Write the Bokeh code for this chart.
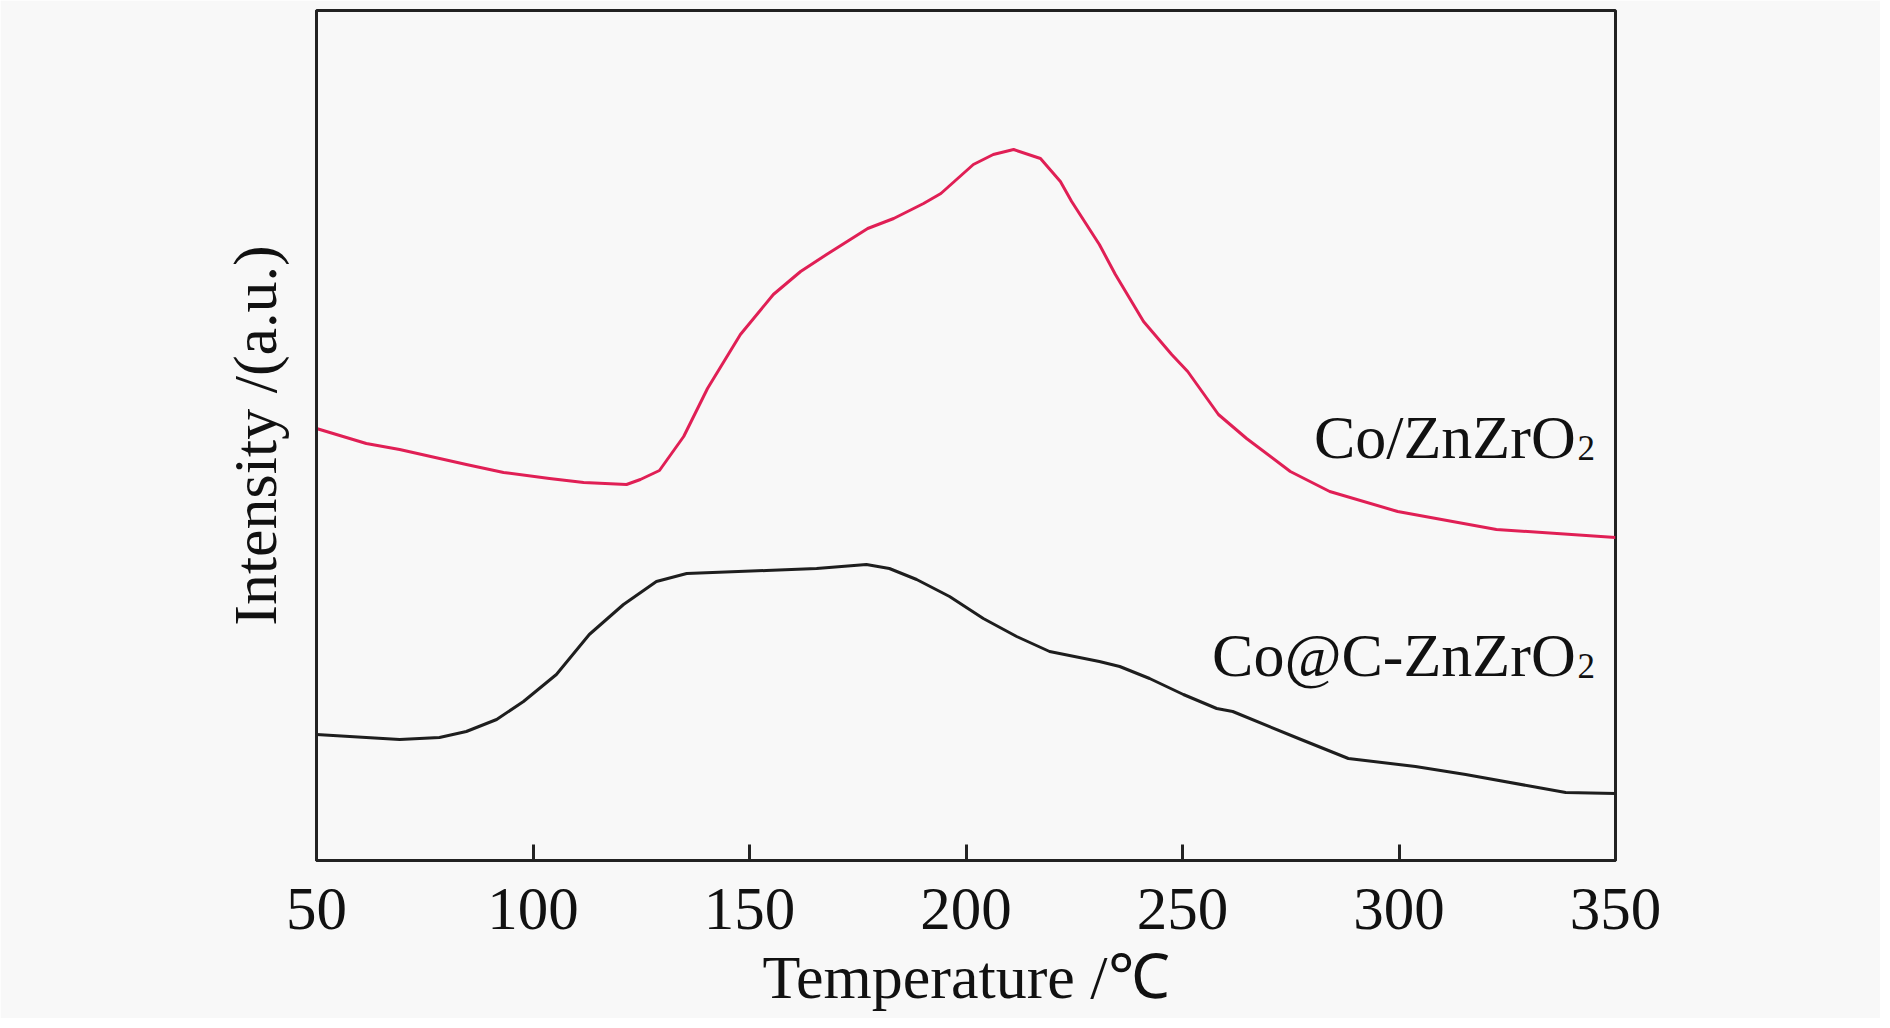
from bokeh.plotting import figure
from bokeh.models import FixedTicker, Label
from bokeh.embed import file_html
from bokeh.resources import INLINE

# ---- data ----
temp_co = [50.0, 61.5, 69.2, 84.6, 93.2, 103.8, 111.7, 121.6, 124.8, 129.2, 134.8, 140.3,
           147.9, 155.5, 161.8, 167.8, 177.3, 183.3, 190.2, 194.2, 201.7, 206.3, 211.0, 217.2,
           221.8, 224.4, 230.8, 234.5, 241.0, 247.5, 251.2, 258.3, 264.8, 274.9, 284.0, 299.7,
           322.5, 350.0]
int_co = [432, 417, 411, 396, 388, 382, 378, 376, 381, 390, 424, 472,
          526, 566, 589, 606, 632, 642, 657, 667, 696, 706, 711, 702,
          679, 659, 616, 586, 539, 506, 489, 446, 422, 389, 369, 349,
          331, 323]

temp_coc = [50.0, 61.5, 69.2, 78.4, 84.6, 91.6, 97.8, 105.4, 113.0, 120.9, 128.5, 135.5, 153.9,
            165.5, 177.0, 182.3, 188.6, 196.2, 204.0, 211.7, 219.3, 230.8, 235.5, 242.4, 250.2,
            257.9, 261.6, 276.8, 288.3, 303.8, 315.4, 330.8, 338.5, 350.0]
int_coc = [126, 123, 121, 123, 129, 141, 159, 186, 226, 256, 279, 287, 290,
           292, 296, 292, 281, 264, 242, 224, 209, 199, 194, 182, 166,
           152, 149, 122, 102, 94, 86, 74, 68, 67]

x_ticks = [50, 100, 150, 200, 250, 300, 350]
series_names = ["Co/ZnZrO", "Co@C-ZnZrO"]
label_x = [340.8, 340.8]
label_y = [424, 206]

FONT = "Liberation Serif"
BG = "#f8f8f8"

p = figure(frame_width=1299, frame_height=850, x_range=(50, 350), y_range=(0, 850),
           output_backend="svg", toolbar_location=None,
           min_border_left=316, min_border_top=10, min_border_right=265, min_border_bottom=158,
           background_fill_color=BG, border_fill_color=BG)
p.grid.visible = False
p.outline_line_color = "#222222"
p.outline_line_width = 3

p.line(temp_co, int_co, line_color="#e01f55", line_width=3, line_join="round")
p.line(temp_coc, int_coc, line_color="#1e1e1e", line_width=3, line_join="round")

xa = p.xaxis[0]
xa.ticker = FixedTicker(ticks=x_ticks)
xa.axis_line_color = "#222222"
xa.axis_line_width = 3
xa.major_tick_in = 16
xa.major_tick_out = 0
xa.major_tick_line_width = 3
xa.major_tick_line_color = "#222222"
xa.minor_tick_line_color = None
xa.major_label_text_font = FONT
xa.major_label_text_font_size = "61px"
xa.major_label_text_color = "#111111"
xa.major_label_standoff = 28
xa.axis_label = "Temperature /℃"
xa.axis_label_text_font = FONT
xa.axis_label_text_font_size = "62px"
xa.axis_label_text_font_style = "normal"
xa.axis_label_text_color = "#111111"
xa.axis_label_standoff = 11

ya = p.yaxis[0]
ya.ticker = FixedTicker(ticks=[])
ya.axis_line_color = "#222222"
ya.axis_line_width = 3
ya.major_tick_in = 0
ya.major_tick_out = 0
ya.minor_tick_line_color = None
ya.axis_label = "Intensity /(a.u.)"
ya.axis_label_text_font = FONT
ya.axis_label_text_font_size = "62px"
ya.axis_label_text_font_style = "normal"
ya.axis_label_text_color = "#111111"
ya.axis_label_standoff = 28

for name, lx, ly in zip(series_names, label_x, label_y):
    p.add_layout(Label(x=lx, y=ly, text=name, text_align="right", text_baseline="alphabetic",
                       text_font=FONT, text_font_size="62px", text_color="#111111"))
    p.add_layout(Label(x=lx + 0.4, y=ly - 11, text="2", text_align="left",
                       text_baseline="alphabetic",
                       text_font=FONT, text_font_size="35px", text_color="#111111"))

open("out.html", "w").write(file_html(p, INLINE))
